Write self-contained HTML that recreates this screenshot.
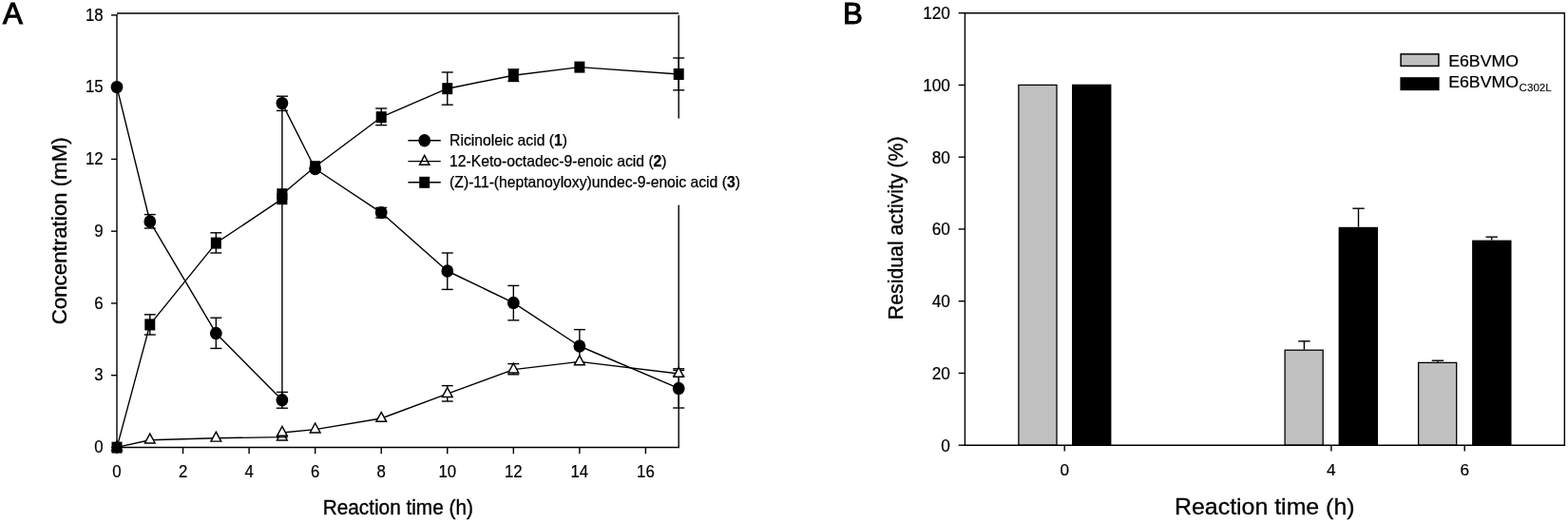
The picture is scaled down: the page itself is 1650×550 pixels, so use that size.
<!DOCTYPE html>
<html lang="en">
<head>
<meta charset="utf-8">
<title>Figure: biotransformation time course and residual activity</title>
<style>
html,body{margin:0;padding:0;background:#fff;}
body{width:1650px;height:550px;overflow:hidden;}
svg{display:block;}
text{font-family:'Liberation Sans', Arial, Helvetica, sans-serif;fill:#000;}
</style>
</head>
<body>
<svg width="1650" height="550" viewBox="0 0 1650 550" role="img" aria-label="Panel A: concentration versus reaction time; Panel B: residual activity versus reaction time">
<rect x="0" y="0" width="1650" height="550" fill="#fff"/>
<g id="panelA">
<line x1="123.00" y1="15.10" x2="123.00" y2="471.25" stroke="#000" stroke-width="1.4" />
<line x1="122.20" y1="470.45" x2="715.00" y2="470.45" stroke="#000" stroke-width="1.4" />
<line x1="123.00" y1="14.00" x2="714.20" y2="14.00" stroke="#000" stroke-width="1.4" />
<line x1="714.20" y1="15.90" x2="714.20" y2="470.45" stroke="#000" stroke-width="1.4" />
<line x1="117.00" y1="470.45" x2="123.00" y2="470.45" stroke="#000" stroke-width="1.4" />
<text transform="translate(108.60,476.25) scale(1,1.05)" font-size="16.8" text-anchor="end" font-weight="normal" stroke="#000" stroke-width="0.2" >0</text>
<line x1="117.00" y1="394.69" x2="123.00" y2="394.69" stroke="#000" stroke-width="1.4" />
<text transform="translate(108.60,400.49) scale(1,1.05)" font-size="16.8" text-anchor="end" font-weight="normal" stroke="#000" stroke-width="0.2" >3</text>
<line x1="117.00" y1="318.93" x2="123.00" y2="318.93" stroke="#000" stroke-width="1.4" />
<text transform="translate(108.60,324.73) scale(1,1.05)" font-size="16.8" text-anchor="end" font-weight="normal" stroke="#000" stroke-width="0.2" >6</text>
<line x1="117.00" y1="243.17" x2="123.00" y2="243.17" stroke="#000" stroke-width="1.4" />
<text transform="translate(108.60,248.97) scale(1,1.05)" font-size="16.8" text-anchor="end" font-weight="normal" stroke="#000" stroke-width="0.2" >9</text>
<line x1="117.00" y1="167.42" x2="123.00" y2="167.42" stroke="#000" stroke-width="1.4" />
<text transform="translate(108.60,173.22) scale(1,1.05)" font-size="16.8" text-anchor="end" font-weight="normal" stroke="#000" stroke-width="0.2" >12</text>
<line x1="117.00" y1="91.66" x2="123.00" y2="91.66" stroke="#000" stroke-width="1.4" />
<text transform="translate(108.60,97.46) scale(1,1.05)" font-size="16.8" text-anchor="end" font-weight="normal" stroke="#000" stroke-width="0.2" >15</text>
<line x1="117.00" y1="15.90" x2="123.00" y2="15.90" stroke="#000" stroke-width="1.4" />
<text transform="translate(108.60,21.70) scale(1,1.05)" font-size="16.8" text-anchor="end" font-weight="normal" stroke="#000" stroke-width="0.2" >18</text>
<line x1="123.00" y1="470.45" x2="123.00" y2="477.25" stroke="#000" stroke-width="1.4" />
<text transform="translate(123.00,501.90) scale(1,1.04)" font-size="16.8" text-anchor="middle" font-weight="normal" stroke="#000" stroke-width="0.2" >0</text>
<line x1="192.55" y1="470.45" x2="192.55" y2="477.25" stroke="#000" stroke-width="1.4" />
<text transform="translate(192.55,501.90) scale(1,1.04)" font-size="16.8" text-anchor="middle" font-weight="normal" stroke="#000" stroke-width="0.2" >2</text>
<line x1="262.11" y1="470.45" x2="262.11" y2="477.25" stroke="#000" stroke-width="1.4" />
<text transform="translate(262.11,501.90) scale(1,1.04)" font-size="16.8" text-anchor="middle" font-weight="normal" stroke="#000" stroke-width="0.2" >4</text>
<line x1="331.66" y1="470.45" x2="331.66" y2="477.25" stroke="#000" stroke-width="1.4" />
<text transform="translate(331.66,501.90) scale(1,1.04)" font-size="16.8" text-anchor="middle" font-weight="normal" stroke="#000" stroke-width="0.2" >6</text>
<line x1="401.21" y1="470.45" x2="401.21" y2="477.25" stroke="#000" stroke-width="1.4" />
<text transform="translate(401.21,501.90) scale(1,1.04)" font-size="16.8" text-anchor="middle" font-weight="normal" stroke="#000" stroke-width="0.2" >8</text>
<line x1="470.76" y1="470.45" x2="470.76" y2="477.25" stroke="#000" stroke-width="1.4" />
<text transform="translate(470.76,501.90) scale(1,1.04)" font-size="16.8" text-anchor="middle" font-weight="normal" stroke="#000" stroke-width="0.2" >10</text>
<line x1="540.32" y1="470.45" x2="540.32" y2="477.25" stroke="#000" stroke-width="1.4" />
<text transform="translate(540.32,501.90) scale(1,1.04)" font-size="16.8" text-anchor="middle" font-weight="normal" stroke="#000" stroke-width="0.2" >12</text>
<line x1="609.87" y1="470.45" x2="609.87" y2="477.25" stroke="#000" stroke-width="1.4" />
<text transform="translate(609.87,501.90) scale(1,1.04)" font-size="16.8" text-anchor="middle" font-weight="normal" stroke="#000" stroke-width="0.2" >14</text>
<line x1="679.42" y1="470.45" x2="679.42" y2="477.25" stroke="#000" stroke-width="1.4" />
<text transform="translate(679.42,501.90) scale(1,1.04)" font-size="16.8" text-anchor="middle" font-weight="normal" stroke="#000" stroke-width="0.2" >16</text>
<text transform="translate(418.80,541.10) scale(1,1.08)" font-size="20.8" text-anchor="middle" font-weight="normal" stroke="#000" stroke-width="0.35" >Reaction time (h)</text>
<text transform="translate(69.5,242.8) rotate(-90) scale(0.996,1)" font-size="22.4" text-anchor="middle" stroke="#000" stroke-width="0.35">Concentration (mM)</text>
<text transform="translate(3.10,25.30) scale(1,1.0)" font-size="31.2" text-anchor="start" font-weight="normal" stroke="#000" stroke-width="1.1" >A</text>
<polyline fill="none" stroke="#000" stroke-width="1.4" stroke-linejoin="round" points="123.00,91.60 157.78,233.00 227.33,350.40 296.88,420.80 296.88,108.60 331.66,177.50 401.21,223.60 470.76,285.00 540.32,318.40 609.87,364.00 714.20,408.40"/>
<line x1="157.78" y1="225.60" x2="157.78" y2="240.00" stroke="#000" stroke-width="1.4" />
<line x1="151.78" y1="225.60" x2="163.78" y2="225.60" stroke="#000" stroke-width="1.4" />
<line x1="151.78" y1="240.00" x2="163.78" y2="240.00" stroke="#000" stroke-width="1.4" />
<line x1="227.33" y1="334.20" x2="227.33" y2="366.40" stroke="#000" stroke-width="1.4" />
<line x1="221.33" y1="334.20" x2="233.33" y2="334.20" stroke="#000" stroke-width="1.4" />
<line x1="221.33" y1="366.40" x2="233.33" y2="366.40" stroke="#000" stroke-width="1.4" />
<line x1="296.88" y1="412.40" x2="296.88" y2="429.20" stroke="#000" stroke-width="1.4" />
<line x1="290.88" y1="412.40" x2="302.88" y2="412.40" stroke="#000" stroke-width="1.4" />
<line x1="290.88" y1="429.20" x2="302.88" y2="429.20" stroke="#000" stroke-width="1.4" />
<line x1="296.88" y1="101.20" x2="296.88" y2="116.40" stroke="#000" stroke-width="1.4" />
<line x1="290.88" y1="101.20" x2="302.88" y2="101.20" stroke="#000" stroke-width="1.4" />
<line x1="290.88" y1="116.40" x2="302.88" y2="116.40" stroke="#000" stroke-width="1.4" />
<line x1="401.21" y1="218.40" x2="401.21" y2="229.00" stroke="#000" stroke-width="1.4" />
<line x1="395.21" y1="218.40" x2="407.21" y2="218.40" stroke="#000" stroke-width="1.4" />
<line x1="395.21" y1="229.00" x2="407.21" y2="229.00" stroke="#000" stroke-width="1.4" />
<line x1="470.76" y1="266.00" x2="470.76" y2="304.40" stroke="#000" stroke-width="1.4" />
<line x1="464.76" y1="266.00" x2="476.76" y2="266.00" stroke="#000" stroke-width="1.4" />
<line x1="464.76" y1="304.40" x2="476.76" y2="304.40" stroke="#000" stroke-width="1.4" />
<line x1="540.32" y1="300.40" x2="540.32" y2="336.80" stroke="#000" stroke-width="1.4" />
<line x1="534.32" y1="300.40" x2="546.32" y2="300.40" stroke="#000" stroke-width="1.4" />
<line x1="534.32" y1="336.80" x2="546.32" y2="336.80" stroke="#000" stroke-width="1.4" />
<line x1="609.87" y1="346.60" x2="609.87" y2="381.40" stroke="#000" stroke-width="1.4" />
<line x1="603.87" y1="346.60" x2="615.87" y2="346.60" stroke="#000" stroke-width="1.4" />
<line x1="603.87" y1="381.40" x2="615.87" y2="381.40" stroke="#000" stroke-width="1.4" />
<line x1="714.20" y1="387.80" x2="714.20" y2="429.00" stroke="#000" stroke-width="1.4" />
<line x1="708.20" y1="387.80" x2="720.20" y2="387.80" stroke="#000" stroke-width="1.4" />
<line x1="708.20" y1="429.00" x2="720.20" y2="429.00" stroke="#000" stroke-width="1.4" />
<ellipse cx="123.00" cy="91.60" rx="6.4" ry="6.72" fill="#000"/>
<ellipse cx="157.78" cy="233.00" rx="6.4" ry="6.72" fill="#000"/>
<ellipse cx="227.33" cy="350.40" rx="6.4" ry="6.72" fill="#000"/>
<ellipse cx="296.88" cy="420.80" rx="6.4" ry="6.72" fill="#000"/>
<ellipse cx="296.88" cy="108.60" rx="6.4" ry="6.72" fill="#000"/>
<ellipse cx="331.66" cy="177.50" rx="6.4" ry="6.72" fill="#000"/>
<ellipse cx="401.21" cy="223.60" rx="6.4" ry="6.72" fill="#000"/>
<ellipse cx="470.76" cy="285.00" rx="6.4" ry="6.72" fill="#000"/>
<ellipse cx="540.32" cy="318.40" rx="6.4" ry="6.72" fill="#000"/>
<ellipse cx="609.87" cy="364.00" rx="6.4" ry="6.72" fill="#000"/>
<ellipse cx="714.20" cy="408.40" rx="6.4" ry="6.72" fill="#000"/>
<polyline fill="none" stroke="#000" stroke-width="1.4" stroke-linejoin="round" points="123.00,470.40 157.78,462.70 227.33,460.80 296.88,459.60 296.88,455.00 331.66,451.60 401.21,440.00 470.76,414.20 540.32,388.60 609.87,380.40 714.20,393.00"/>
<line x1="470.76" y1="405.60" x2="470.76" y2="422.00" stroke="#000" stroke-width="1.4" />
<line x1="464.76" y1="405.60" x2="476.76" y2="405.60" stroke="#000" stroke-width="1.4" />
<line x1="464.76" y1="422.00" x2="476.76" y2="422.00" stroke="#000" stroke-width="1.4" />
<line x1="540.32" y1="382.60" x2="540.32" y2="393.80" stroke="#000" stroke-width="1.4" />
<line x1="534.32" y1="382.60" x2="546.32" y2="382.60" stroke="#000" stroke-width="1.4" />
<line x1="534.32" y1="393.80" x2="546.32" y2="393.80" stroke="#000" stroke-width="1.4" />
<line x1="714.20" y1="389.40" x2="714.20" y2="395.40" stroke="#000" stroke-width="1.4" />
<line x1="708.20" y1="389.40" x2="720.20" y2="389.40" stroke="#000" stroke-width="1.4" />
<line x1="708.20" y1="395.40" x2="720.20" y2="395.40" stroke="#000" stroke-width="1.4" />
<polygon points="123.00,463.80 128.35,473.70 117.65,473.70" fill="#fff" stroke="#000" stroke-width="1.45" stroke-linejoin="miter"/>
<polygon points="157.78,456.10 163.13,466.00 152.43,466.00" fill="#fff" stroke="#000" stroke-width="1.45" stroke-linejoin="miter"/>
<polygon points="227.33,454.20 232.68,464.10 221.98,464.10" fill="#fff" stroke="#000" stroke-width="1.45" stroke-linejoin="miter"/>
<polygon points="296.88,453.00 302.23,462.90 291.53,462.90" fill="#fff" stroke="#000" stroke-width="1.45" stroke-linejoin="miter"/>
<line x1="290.88" y1="459.90" x2="302.88" y2="459.90" stroke="#000" stroke-width="1.2" />
<polygon points="296.88,448.40 302.23,458.30 291.53,458.30" fill="#fff" stroke="#000" stroke-width="1.45" stroke-linejoin="miter"/>
<polygon points="331.66,445.00 337.01,454.90 326.31,454.90" fill="#fff" stroke="#000" stroke-width="1.45" stroke-linejoin="miter"/>
<polygon points="401.21,433.40 406.56,443.30 395.86,443.30" fill="#fff" stroke="#000" stroke-width="1.45" stroke-linejoin="miter"/>
<polygon points="470.76,407.60 476.11,417.50 465.41,417.50" fill="#fff" stroke="#000" stroke-width="1.45" stroke-linejoin="miter"/>
<polygon points="540.32,382.00 545.67,391.90 534.97,391.90" fill="#fff" stroke="#000" stroke-width="1.45" stroke-linejoin="miter"/>
<polygon points="609.87,373.80 615.22,383.70 604.52,383.70" fill="#fff" stroke="#000" stroke-width="1.45" stroke-linejoin="miter"/>
<polygon points="714.20,386.40 719.55,396.30 708.85,396.30" fill="#fff" stroke="#000" stroke-width="1.45" stroke-linejoin="miter"/>
<polyline fill="none" stroke="#000" stroke-width="1.4" stroke-linejoin="round" points="123.00,470.60 157.78,341.40 227.33,255.60 296.88,209.20 296.88,204.20 331.66,175.20 401.21,123.20 470.76,93.20 540.32,79.20 609.87,70.60 714.20,78.00"/>
<line x1="157.78" y1="330.80" x2="157.78" y2="352.00" stroke="#000" stroke-width="1.4" />
<line x1="151.78" y1="330.80" x2="163.78" y2="330.80" stroke="#000" stroke-width="1.4" />
<line x1="151.78" y1="352.00" x2="163.78" y2="352.00" stroke="#000" stroke-width="1.4" />
<line x1="227.33" y1="244.80" x2="227.33" y2="266.00" stroke="#000" stroke-width="1.4" />
<line x1="221.33" y1="244.80" x2="233.33" y2="244.80" stroke="#000" stroke-width="1.4" />
<line x1="221.33" y1="266.00" x2="233.33" y2="266.00" stroke="#000" stroke-width="1.4" />
<line x1="401.21" y1="114.00" x2="401.21" y2="131.60" stroke="#000" stroke-width="1.4" />
<line x1="395.21" y1="114.00" x2="407.21" y2="114.00" stroke="#000" stroke-width="1.4" />
<line x1="395.21" y1="131.60" x2="407.21" y2="131.60" stroke="#000" stroke-width="1.4" />
<line x1="470.76" y1="76.00" x2="470.76" y2="110.20" stroke="#000" stroke-width="1.4" />
<line x1="464.76" y1="76.00" x2="476.76" y2="76.00" stroke="#000" stroke-width="1.4" />
<line x1="464.76" y1="110.20" x2="476.76" y2="110.20" stroke="#000" stroke-width="1.4" />
<line x1="540.32" y1="72.90" x2="540.32" y2="85.50" stroke="#000" stroke-width="1.4" />
<line x1="534.32" y1="72.90" x2="546.32" y2="72.90" stroke="#000" stroke-width="1.4" />
<line x1="534.32" y1="85.50" x2="546.32" y2="85.50" stroke="#000" stroke-width="1.4" />
<line x1="714.20" y1="61.00" x2="714.20" y2="94.80" stroke="#000" stroke-width="1.4" />
<line x1="708.20" y1="61.00" x2="720.20" y2="61.00" stroke="#000" stroke-width="1.4" />
<line x1="708.20" y1="94.80" x2="720.20" y2="94.80" stroke="#000" stroke-width="1.4" />
<rect x="117.50" y="464.60" width="11.0" height="12.0" fill="#000"/>
<rect x="152.28" y="335.40" width="11.0" height="12.0" fill="#000"/>
<rect x="221.83" y="249.60" width="11.0" height="12.0" fill="#000"/>
<rect x="291.38" y="203.20" width="11.0" height="12.0" fill="#000"/>
<rect x="291.38" y="198.20" width="11.0" height="12.0" fill="#000"/>
<rect x="326.16" y="169.20" width="11.0" height="12.0" fill="#000"/>
<rect x="395.71" y="117.20" width="11.0" height="12.0" fill="#000"/>
<rect x="465.26" y="87.20" width="11.0" height="12.0" fill="#000"/>
<rect x="534.82" y="73.20" width="11.0" height="12.0" fill="#000"/>
<rect x="604.37" y="64.60" width="11.0" height="12.0" fill="#000"/>
<rect x="708.70" y="72.00" width="11.0" height="12.0" fill="#000"/>
<rect x="425" y="124.6" width="365" height="91" fill="#fff"/>
<polygon points="446.70,163.40 451.85,173.30 441.55,173.30" fill="#fff" stroke="#000" stroke-width="1.45" stroke-linejoin="miter"/>
<line x1="429.40" y1="147.80" x2="463.80" y2="147.80" stroke="#000" stroke-width="1.4" />
<line x1="429.40" y1="169.60" x2="463.80" y2="169.60" stroke="#000" stroke-width="1.4" />
<line x1="429.40" y1="191.80" x2="463.80" y2="191.80" stroke="#000" stroke-width="1.4" />
<ellipse cx="446.70" cy="147.80" rx="6.4" ry="6.72" fill="#000"/>
<rect x="441.20" y="185.80" width="11.0" height="12.0" fill="#000"/>
<text transform="translate(473.1,153.20) scale(1,1.0)" font-size="15.7" stroke="#000" stroke-width="0.25">Ricinoleic acid (<tspan font-weight="bold">1</tspan>)</text>
<text transform="translate(473.1,175.10) scale(1,1.0)" font-size="15.7" stroke="#000" stroke-width="0.25">12-Keto-octadec-9-enoic acid (<tspan font-weight="bold">2</tspan>)</text>
<text transform="translate(473.1,197.00) scale(1,1.0)" font-size="15.7" stroke="#000" stroke-width="0.25">(Z)-11-(heptanoyloxy)undec-9-enoic acid (<tspan font-weight="bold">3</tspan>)</text>
</g>
<g id="panelB">
<line x1="1372.40" y1="358.80" x2="1372.40" y2="367.60" stroke="#000" stroke-width="1.4" />
<line x1="1366.20" y1="358.80" x2="1378.60" y2="358.80" stroke="#000" stroke-width="1.4" />
<line x1="1429.50" y1="219.20" x2="1429.50" y2="238.80" stroke="#000" stroke-width="1.4" />
<line x1="1423.30" y1="219.20" x2="1435.70" y2="219.20" stroke="#000" stroke-width="1.4" />
<line x1="1512.90" y1="379.20" x2="1512.90" y2="381.40" stroke="#000" stroke-width="1.4" />
<line x1="1506.70" y1="379.20" x2="1519.10" y2="379.20" stroke="#000" stroke-width="1.4" />
<line x1="1569.70" y1="249.20" x2="1569.70" y2="252.60" stroke="#000" stroke-width="1.4" />
<line x1="1563.50" y1="249.20" x2="1575.90" y2="249.20" stroke="#000" stroke-width="1.4" />
<rect x="1071.90" y="89.40" width="40.10" height="378.80" fill="#c0c0c0" stroke="#000" stroke-width="1.3"/>
<rect x="1128.00" y="88.70" width="41.40" height="379.50" fill="#000"/>
<rect x="1352.10" y="368.20" width="40.10" height="100.00" fill="#c0c0c0" stroke="#000" stroke-width="1.3"/>
<rect x="1408.60" y="238.80" width="41.40" height="229.40" fill="#000"/>
<rect x="1492.60" y="381.40" width="40.10" height="86.80" fill="#c0c0c0" stroke="#000" stroke-width="1.3"/>
<rect x="1549.10" y="252.60" width="41.40" height="215.60" fill="#000"/>
<line x1="1015.40" y1="12.90" x2="1015.40" y2="469.00" stroke="#000" stroke-width="1.4" />
<line x1="1014.60" y1="468.20" x2="1647.15" y2="468.20" stroke="#000" stroke-width="1.4" />
<line x1="1015.40" y1="13.70" x2="1646.35" y2="13.70" stroke="#000" stroke-width="1.4" />
<line x1="1646.35" y1="12.90" x2="1646.35" y2="469.00" stroke="#000" stroke-width="1.4" />
<line x1="1008.60" y1="468.20" x2="1015.40" y2="468.20" stroke="#000" stroke-width="1.4" />
<text transform="translate(999.90,474.50) scale(1,1.08)" font-size="17.2" text-anchor="end" font-weight="normal" stroke="#000" stroke-width="0.2" >0</text>
<line x1="1008.60" y1="392.45" x2="1015.40" y2="392.45" stroke="#000" stroke-width="1.4" />
<text transform="translate(999.90,398.75) scale(1,1.08)" font-size="17.2" text-anchor="end" font-weight="normal" stroke="#000" stroke-width="0.2" >20</text>
<line x1="1008.60" y1="316.70" x2="1015.40" y2="316.70" stroke="#000" stroke-width="1.4" />
<text transform="translate(999.90,323.00) scale(1,1.08)" font-size="17.2" text-anchor="end" font-weight="normal" stroke="#000" stroke-width="0.2" >40</text>
<line x1="1008.60" y1="240.95" x2="1015.40" y2="240.95" stroke="#000" stroke-width="1.4" />
<text transform="translate(999.90,247.25) scale(1,1.08)" font-size="17.2" text-anchor="end" font-weight="normal" stroke="#000" stroke-width="0.2" >60</text>
<line x1="1008.60" y1="165.20" x2="1015.40" y2="165.20" stroke="#000" stroke-width="1.4" />
<text transform="translate(999.90,171.50) scale(1,1.08)" font-size="17.2" text-anchor="end" font-weight="normal" stroke="#000" stroke-width="0.2" >80</text>
<line x1="1008.60" y1="89.45" x2="1015.40" y2="89.45" stroke="#000" stroke-width="1.4" />
<text transform="translate(999.90,95.75) scale(1,1.08)" font-size="17.2" text-anchor="end" font-weight="normal" stroke="#000" stroke-width="0.2" >100</text>
<line x1="1008.60" y1="13.70" x2="1015.40" y2="13.70" stroke="#000" stroke-width="1.4" />
<text transform="translate(999.90,20.00) scale(1,1.08)" font-size="17.2" text-anchor="end" font-weight="normal" stroke="#000" stroke-width="0.2" >120</text>
<line x1="1120.20" y1="468.20" x2="1120.20" y2="474.60" stroke="#000" stroke-width="1.4" />
<text transform="translate(1120.20,499.50) scale(1,1.0)" font-size="17.2" text-anchor="middle" font-weight="normal" stroke="#000" stroke-width="0.2" >0</text>
<line x1="1400.88" y1="468.20" x2="1400.88" y2="474.60" stroke="#000" stroke-width="1.4" />
<text transform="translate(1400.88,499.50) scale(1,1.0)" font-size="17.2" text-anchor="middle" font-weight="normal" stroke="#000" stroke-width="0.2" >4</text>
<line x1="1541.22" y1="468.20" x2="1541.22" y2="474.60" stroke="#000" stroke-width="1.4" />
<text transform="translate(1541.22,499.50) scale(1,1.0)" font-size="17.2" text-anchor="middle" font-weight="normal" stroke="#000" stroke-width="0.2" >6</text>
<text transform="translate(1330.80,541.20) scale(1,0.96)" font-size="24.9" text-anchor="middle" font-weight="normal" stroke="#000" stroke-width="0.3" >Reaction time (h)</text>
<text transform="translate(950.1,239.8) rotate(-90) scale(0.972,1)" font-size="21.9" text-anchor="middle" stroke="#000" stroke-width="0.35">Residual activity (%)</text>
<text transform="translate(887.00,25.30) scale(1,1.0)" font-size="31.2" text-anchor="start" font-weight="normal" stroke="#000" stroke-width="1.1" >B</text>
<rect x="1474.1" y="56.9" width="39.8" height="12.5" fill="#c0c0c0" stroke="#000" stroke-width="1.5"/>
<rect x="1473.4" y="81.2" width="41.2" height="13.9" fill="#000"/>
<text transform="translate(1524.20,69.70) scale(1,0.95)" font-size="17.7" text-anchor="start" font-weight="normal" stroke="#000" stroke-width="0.25" >E6BVMO</text>
<text transform="translate(1524.20,91.50) scale(1,0.95)" font-size="17.7" text-anchor="start" font-weight="normal" stroke="#000" stroke-width="0.25" >E6BVMO</text>
<text transform="translate(1598.60,96.30) scale(1,0.98)" font-size="11.6" text-anchor="start" font-weight="normal" stroke="#000" stroke-width="0.1" >C302L</text>
</g>
</svg>
</body>
</html>
